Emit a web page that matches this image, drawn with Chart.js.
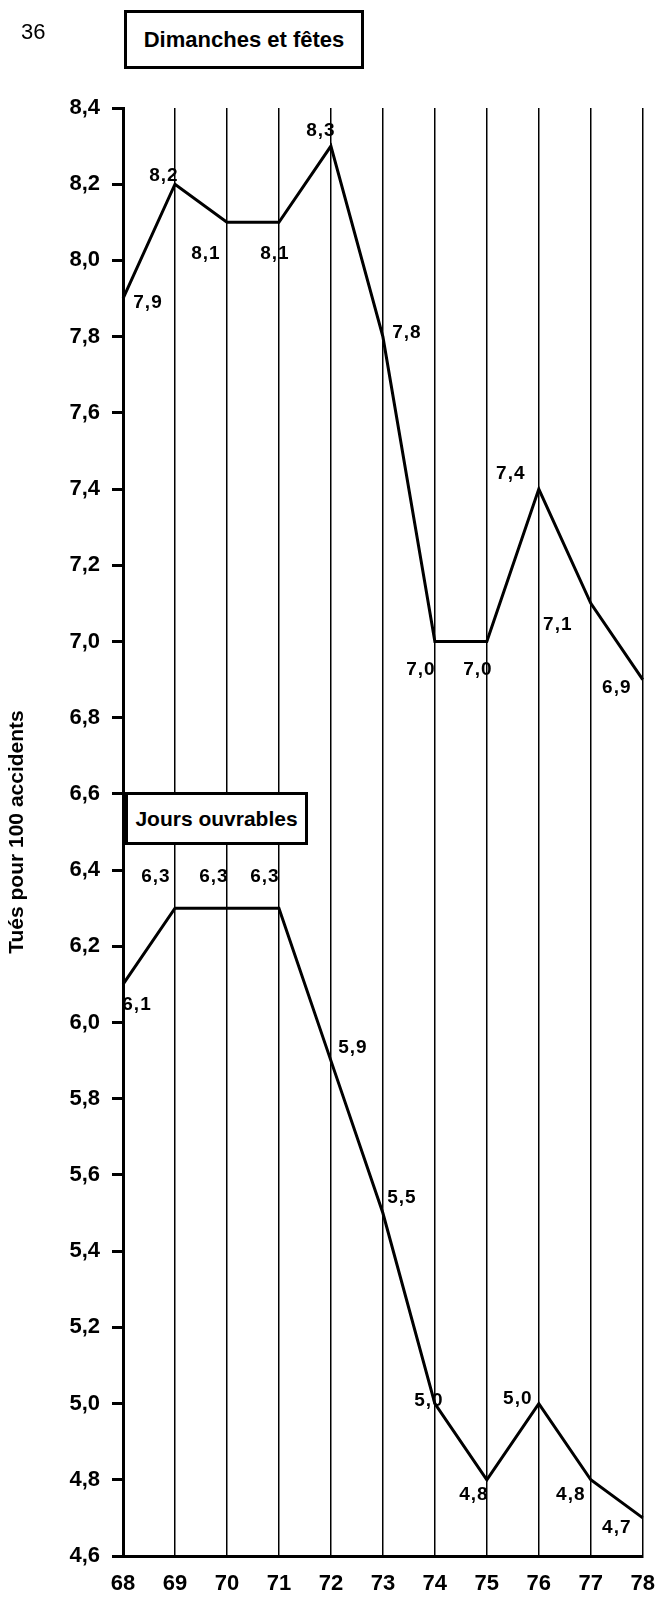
<!DOCTYPE html>
<html lang="fr">
<head>
<meta charset="utf-8">
<title>Tués pour 100 accidents</title>
<script src="https://cdn.jsdelivr.net/npm/chart.js@4/dist/chart.umd.min.js"></script>
<style>
  body { margin: 0; background: #fff; }
  #wrap { position: relative; width: 670px; height: 1598px; }
  canvas { position: absolute; left: 0; top: 0; }
  .page-num {
    position: absolute; left: 21px; top: 19px;
    font: 22px "Liberation Sans", Arial, sans-serif; color: #000;
  }
  .box {
    position: absolute; box-sizing: border-box;
    border: 3px solid #000; background: #fff;
    font: bold 22px "Liberation Sans", Arial, sans-serif; color: #000;
    display: flex; align-items: center; justify-content: center;
  }
</style>
</head>
<body>
<div id="wrap">
  <canvas id="chart" width="670" height="1598"></canvas>
  <div class="page-num">36</div>
  <div class="box" style="left:124px; top:10px; width:240px; height:59px;">Dimanches et fêtes</div>
  <div class="box" style="left:125px; top:792px; width:183px; height:53px; font-size:21px;">Jours ouvrables</div>
</div>
<script>
// années (abscisse)
const years = ["68", "69", "70", "71", "72", "73", "74", "75", "76", "77", "78"];

// graduations de l'axe vertical
const yTicks = [4.6, 4.8, 5.0, 5.2, 5.4, 5.6, 5.8, 6.0, 6.2, 6.4, 6.6, 6.8, 7.0, 7.2, 7.4, 7.6, 7.8, 8.0, 8.2, 8.4];

// tués pour 100 accidents
const dimanchesFetes = [7.9, 8.2, 8.1, 8.1, 8.3, 7.8, 7.0, 7.0, 7.4, 7.1, 6.9];
const joursOuvrables = [6.1, 6.3, 6.3, 6.3, 5.9, 5.5, 5.0, 4.8, 5.0, 4.8, 4.7];

// décalage des étiquettes par rapport au point (dx, dy)
const dimLabelOffsets = [
  [25, 4], [-11, -8], [-21, 31], [-4, 31], [-10, -15], [24, -4],
  [-14, 28], [-9, 28], [-28, -15], [-33, 21], [-26, 8],
];
const jourLabelOffsets = [
  [14, 20], [-19, -31], [-13, -31], [-14, -31], [22, -13], [19, -15],
  [-6, -3], [-13, 15], [-21, -5], [-20, 15], [-26, 10],
];

const FONT = '"Liberation Sans", Arial, sans-serif';

// format français : 7,9
function fr(v) {
  return v.toFixed(1).replace(".", ",");
}

// étiquettes de valeurs à côté des points
const valueLabels = {
  id: "valueLabels",
  afterDatasetsDraw(chart) {
    const ctx = chart.ctx;
    ctx.save();
    ctx.font = "bold 19px " + FONT;
    ctx.fillStyle = "#000";
    ctx.textAlign = "center";
    ctx.textBaseline = "middle";
    if ("letterSpacing" in ctx) ctx.letterSpacing = "1px";
    chart.data.datasets.forEach((ds, di) => {
      const meta = chart.getDatasetMeta(di);
      meta.data.forEach((pt, i) => {
        const off = ds.labelOffsets[i];
        ctx.fillText(fr(ds.data[i]), pt.x + off[0], pt.y + off[1]);
      });
    });
    ctx.restore();
  },
};

new Chart(document.getElementById("chart"), {
  type: "line",
  data: {
    labels: years,
    datasets: [
      {
        label: "Dimanches et fêtes",
        data: dimanchesFetes,
        labelOffsets: dimLabelOffsets,
        borderColor: "#000",
        borderWidth: 3,
        pointRadius: 0,
        tension: 0,
        fill: false,
      },
      {
        label: "Jours ouvrables",
        data: joursOuvrables,
        labelOffsets: jourLabelOffsets,
        borderColor: "#000",
        borderWidth: 3,
        pointRadius: 0,
        tension: 0,
        fill: false,
      },
    ],
  },
  options: {
    responsive: false,
    animation: false,
    layout: {
      padding: { left: 0, right: 16, top: 108, bottom: 0 },
    },
    plugins: {
      legend: { display: false },
      tooltip: { enabled: false },
    },
    scales: {
      x: {
        offset: false,
        grid: {
          display: true,
          drawOnChartArea: true,
          drawTicks: false,
          color: "#000",
          lineWidth: 1.5,
        },
        border: { display: true, color: "#000", width: 3 },
        ticks: {
          color: "#000",
          font: { family: FONT, size: 22, weight: "bold" },
          padding: 15,
          maxRotation: 0,
          autoSkip: false,
        },
        afterFit(scale) {
          scale.height = 42;
        },
      },
      y: {
        min: 4.6,
        max: 8.4,
        grid: {
          display: true,
          drawOnChartArea: false,
          drawTicks: true,
          tickLength: 11,
          tickWidth: 3,
          tickColor: "#000",
        },
        border: { display: true, color: "#000", width: 3 },
        afterBuildTicks(scale) {
          scale.ticks = yTicks.map((v) => ({ value: v }));
        },
        ticks: {
          color: "#000",
          font: { family: FONT, size: 22, weight: "bold" },
          padding: 12,
          callback: function (value) {
            return fr(value);
          },
        },
        title: {
          display: true,
          text: "Tués pour 100 accidents",
          color: "#000",
          font: { family: FONT, size: 21, weight: "bold" },
          padding: { top: 5, bottom: 0 },
        },
        afterFit(scale) {
          scale.width = 123;
        },
      },
    },
  },
  plugins: [valueLabels],
});
</script>
</body>
</html>
